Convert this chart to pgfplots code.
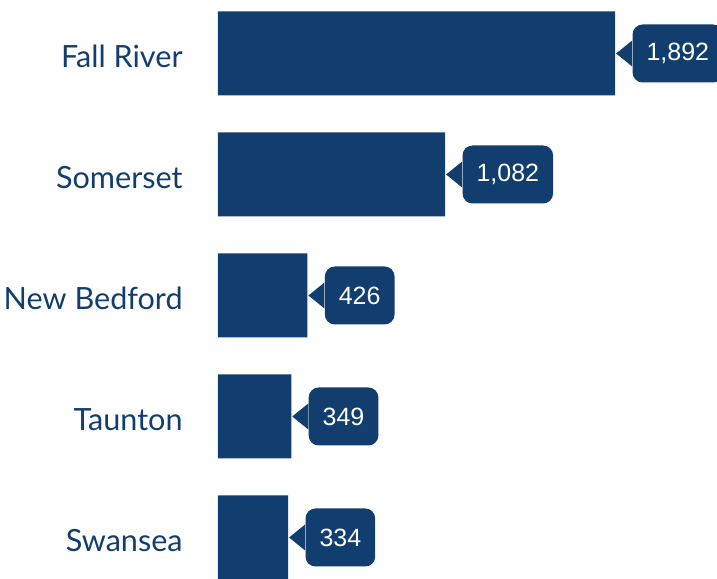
\documentclass[border=0pt]{standalone}
\usepackage{pgfplots}
\pgfplotsset{compat=1.18}
\usepackage{fontspec}
\newfontfamily\lato{Lato}
\newfontfamily\arialf{Liberation Sans}
\definecolor{barblue}{HTML}{113E6E}
\begin{document}
\begin{tikzpicture}
\begin{axis}[
  name=ax,
  scale only axis,
  width=249.5pt, height=283pt,
  xmin=0, xmax=2377,
  ymin=-0.343, ymax=4.335,
  y dir=reverse,
  clip=false,
  axis line style={draw=none},
  xtick=\empty,
  ytick={0,1,2,3,4},
  yticklabels={Fall River,Somerset,New Bedford,Taunton,Swansea},
  ytick style={draw=none},
  major tick length=0pt,
  y tick label style={font=\lato\fontsize{15.3}{18}\selectfont, text=barblue, anchor=east, inner sep=0pt, xshift=-17.5pt, yshift=-1.5pt},
  /pgf/number format/assume math mode=true,
  /pgf/number format/1000 sep={,},
  point meta=x,
  nodes near coords,
  every node near coord/.style={
    anchor=west, xshift=8.5pt, fill=barblue, text=white,
    font=\arialf\fontsize{12.5}{14}\selectfont,
    rounded corners=5pt, minimum height=29pt, inner xsep=7pt, inner ysep=0pt,
    append after command={\pgfextra{\fill[barblue] ([yshift=6.5pt]\tikzlastnode.west) -- ++(-8pt,-6.5pt) -- ++(8pt,-6.5pt) -- cycle;}}
  },
]
\addplot[xbar, fill=barblue, draw=none, bar width=42pt] coordinates {
  (1892,0) (1082,1) (426,2) (349,3) (334,4)
};
\end{axis}
\pgfresetboundingbox
\path[use as bounding box] ([xshift=-109pt]ax.south west) rectangle ([yshift=6pt]ax.north east);
\end{tikzpicture}
\end{document}
